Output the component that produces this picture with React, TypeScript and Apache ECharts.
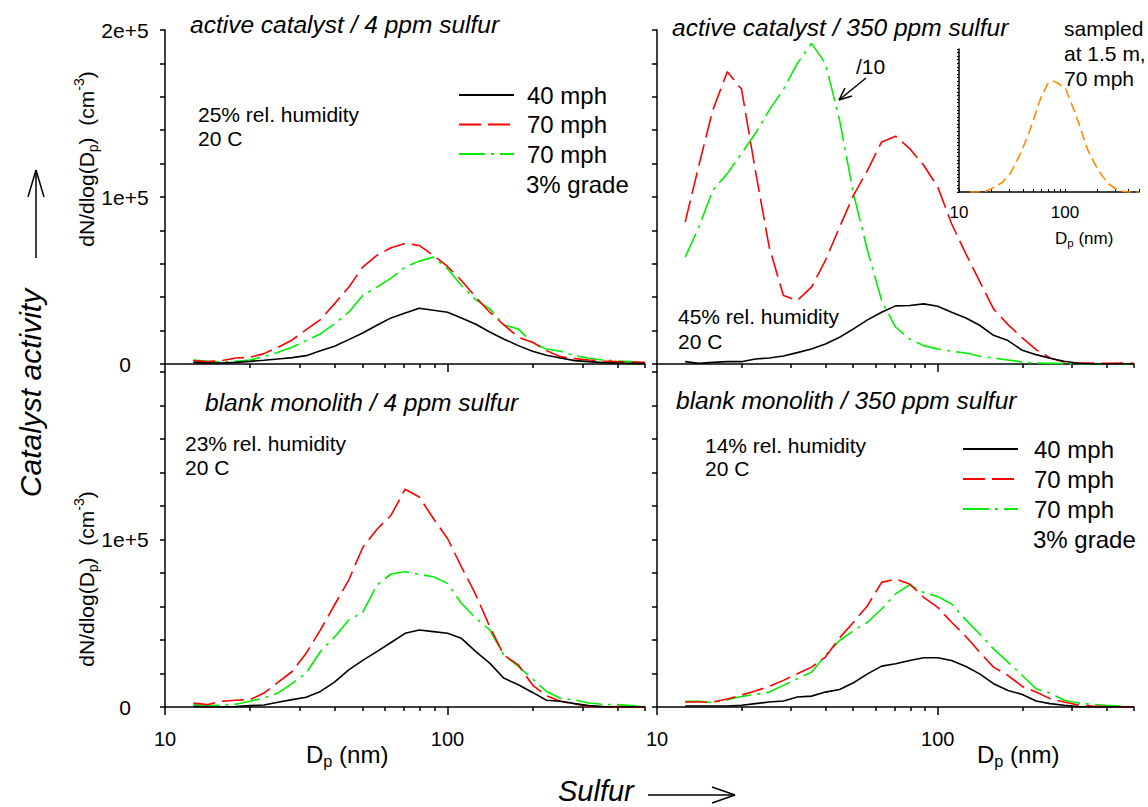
import React, { useEffect, useRef } from "react";
import * as echarts from "echarts";

const FONT = '"Liberation Sans", Arial, Helvetica, sans-serif';

// particle diameter bins (nm)
const dp = [12.6, 14.1, 15.8, 17.8, 20.0, 22.4, 25.1, 28.2, 31.6, 35.5, 39.8, 44.7, 50.1, 56.2, 63.1, 70.8, 79.4, 89.1, 100, 112, 126, 141, 158, 178, 200, 224, 251, 282, 316, 355, 398, 447, 500];

// active catalyst / 4 ppm sulfur
const tl40 = [1000, 500, 600, 1000, 1600, 2200, 3000, 3800, 5000, 8000, 10600, 14600, 18600, 23200, 27600, 30600, 33400, 32200, 31000, 27600, 23800, 19200, 15000, 11000, 7600, 5200, 3600, 2000, 1400, 800, 600, 400, 200];
const tl70 = [2000, 1400, 2000, 3600, 4000, 6200, 10000, 14400, 20600, 26600, 36000, 46000, 58000, 65000, 69600, 72200, 71000, 65000, 58400, 50000, 40000, 31000, 23600, 16000, 13000, 8000, 4400, 3200, 2400, 1800, 1400, 1200, 1000];
const tl70g = [2400, 1600, 1200, 1600, 2400, 4400, 7000, 10000, 14000, 18000, 24000, 31000, 41000, 46000, 51400, 58000, 61600, 64000, 57000, 47000, 38400, 33000, 23400, 21000, 12500, 9000, 7600, 5000, 3400, 2400, 1800, 1400, 400];

// active catalyst / 350 ppm sulfur (green shown /10)
const tr40 = [1400, 400, 1000, 1400, 1400, 3000, 3600, 4800, 6800, 9000, 12000, 16000, 21000, 26400, 31000, 34800, 35000, 36000, 34600, 31000, 27500, 23200, 17200, 14000, 8200, 5600, 3400, 1600, 400, 0, 0, 0, 0];
const tr70 = [85000, 119000, 152000, 175000, 164600, 116000, 70000, 41000, 38000, 46000, 62000, 82000, 101000, 116000, 133000, 136400, 129000, 119000, 106000, 84000, 65900, 49500, 33000, 23600, 15600, 8600, 3600, 1200, 600, 600, 400, 600, 400];
const tr70g = [64000, 82000, 104000, 114000, 126000, 138000, 152000, 164400, 180000, 192000, 180000, 146000, 102000, 68000, 38000, 22000, 15000, 11000, 9000, 7600, 6600, 4600, 3600, 2400, 1200, 600, 400, 200, 0, 0, 0, 0, 0];

// blank monolith / 4 ppm sulfur
const bl40 = [400, 0, 0, 200, 800, 1200, 2800, 4400, 5800, 9300, 14900, 22200, 27800, 33100, 38500, 44000, 46000, 45000, 44000, 41000, 33100, 26200, 17300, 13300, 8700, 4000, 3400, 2000, 800, 200, 0, 0, 0];
const bl70 = [2400, 1400, 3400, 4000, 4400, 8300, 14700, 21200, 32100, 46000, 60900, 75800, 95200, 106000, 114500, 130000, 125400, 112500, 100600, 83700, 66900, 48000, 31100, 25200, 13100, 6700, 3400, 1800, 400, 0, 200, 0, 0];
const bl70g = [1400, 1000, 1000, 1600, 3400, 5400, 8300, 14100, 20200, 33100, 41700, 52000, 56500, 72800, 79400, 80700, 79200, 77800, 73800, 61900, 53000, 46000, 31100, 24200, 16700, 9300, 5200, 4200, 2400, 1600, 1400, 800, 0];

// blank monolith / 350 ppm sulfur
const br40 = [600, 600, 600, 600, 1000, 2000, 3000, 3600, 6000, 6500, 8900, 10500, 14500, 19800, 24400, 25800, 27800, 29400, 29400, 27800, 24200, 19800, 13900, 9900, 7500, 3600, 2000, 1000, 200, 0, 0, 0, 0];
const br70 = [3000, 3000, 3000, 4800, 7100, 9500, 12300, 15900, 19800, 23800, 29800, 41300, 50600, 60500, 74400, 76400, 73400, 65500, 59500, 50600, 42100, 32700, 23800, 18800, 12300, 8900, 5000, 3000, 1200, 600, 200, 0, 0];
const br70g = [3400, 3400, 2600, 4400, 6300, 7500, 8900, 12900, 16900, 20800, 30800, 39700, 45600, 50600, 58500, 67500, 73000, 68400, 65900, 61500, 52000, 43600, 34700, 26800, 18800, 10900, 8300, 4000, 2400, 1600, 1000, 600, 0];

// inset: sampled at 1.5 m, 70 mph (arbitrary units)
const insetDp = [12.7, 17.1, 19.7, 25.4, 30.6, 38.1, 45.7, 59, 68.4, 76.3, 86.3, 102, 127, 164, 205, 255, 318, 395, 500];
const insetN = [0, 0, 1.9, 6.5, 13, 27, 41, 65.5, 75.5, 77.8, 76, 71.8, 53.8, 29.4, 15.4, 6, 1, 0, 0];

const majorTicks = [10, 100];
const minorTicks = [20, 30, 40, 50, 60, 70, 80, 90, 200, 300, 400, 500];
const insetTicks = [10, 20, 30, 40, 50, 60, 70, 80, 90, 100, 200, 300, 400, 500];

const seriesNames = ["40 mph", "70 mph", "70 mph 3% grade"];
const panelData = [
  [tl40, tl70, tl70g],
  [tr40, tr70, tr70g],
  [bl40, bl70, bl70g],
  [br40, br70, br70g],
];

const AX = { color: "#000", width: 1.5 };
const lineStyles = [
  { color: "#000000", width: 1.6, type: "solid" },
  { color: "#ff0000", width: 1.6, type: [22, 7] },
  { color: "#00ee00", width: 1.6, type: [26, 6, 3, 6] },
];

function buildOption() {
  const grids = [
    { left: 165, top: 30, width: 480, height: 334 },
    { left: 657, top: 30, width: 477, height: 334 },
    { left: 165, top: 372, width: 480, height: 335 },
    { left: 657, top: 372, width: 477, height: 335 },
    { left: 959, top: 49, width: 180, height: 143 },
  ];

  const xAxis: any[] = [];
  for (let g = 0; g < 4; g++) {
    const labels = g >= 2;
    xAxis.push({
      type: "log", logBase: 10, gridIndex: g, min: 10, max: 500, position: "bottom",
      axisLine: { show: true, onZero: false, lineStyle: AX },
      axisTick: { show: true, inside: false, length: 8, customValues: majorTicks, lineStyle: AX },
      axisLabel: {
        show: labels, customValues: majorTicks, formatter: (v: number) => String(Math.round(v)),
        fontSize: 20, fontFamily: FONT, color: "#000", margin: 22,
      },
      splitLine: { show: false },
    });
    xAxis.push({
      type: "log", logBase: 10, gridIndex: g, min: 10, max: 500, position: "bottom",
      axisLine: { show: false },
      axisTick: { show: true, inside: false, length: 4, customValues: minorTicks, lineStyle: AX },
      axisLabel: { show: false },
      splitLine: { show: false },
    });
  }
  xAxis.push({
    type: "log", logBase: 10, gridIndex: 4, min: 10, max: 500, position: "bottom",
    axisLine: { show: true, onZero: false, lineStyle: AX },
    axisTick: { show: true, inside: true, length: 3, customValues: insetTicks, lineStyle: { color: "#000", width: 1 } },
    axisLabel: {
      show: true, customValues: majorTicks, formatter: (v: number) => String(Math.round(v)),
      fontSize: 17, fontFamily: FONT, color: "#000", margin: 12,
    },
    splitLine: { show: false },
  });

  const yAxis: any[] = [];
  for (let g = 0; g < 4; g++) {
    const labels = g === 0 || g === 2;
    const top = g === 0;
    yAxis.push({
      type: "value", gridIndex: g, min: 0, max: 200000, interval: 20000,
      axisLine: { show: true, onZero: false, lineStyle: AX },
      axisTick: { show: true, inside: false, length: 5, lineStyle: AX },
      axisLabel: {
        show: labels, align: "center", margin: 40, fontSize: 21, fontFamily: FONT, color: "#000",
        formatter: (v: number) => (v === 0 ? "0" : v === 100000 ? "1e+5" : v === 200000 && top ? "2e+5" : ""),
      },
      splitLine: { show: false },
    });
  }
  yAxis.push({
    type: "value", gridIndex: 4, min: 0, max: 100, interval: 2.5,
    axisLine: { show: true, onZero: false, lineStyle: AX },
    axisTick: { show: true, inside: false, length: 2, lineStyle: { color: "#000", width: 1 } },
    axisLabel: { show: false },
    splitLine: { show: false },
  });

  const series: any[] = [];
  panelData.forEach((arrs, p) => {
    arrs.forEach((arr, s) => {
      series.push({
        type: "line", name: seriesNames[s], xAxisIndex: p * 2, yAxisIndex: p,
        data: dp.map((d, i) => [d, arr[i]]),
        symbol: "none", showSymbol: false, lineStyle: lineStyles[s],
        itemStyle: { color: lineStyles[s].color }, z: 3 - s,
      });
    });
  });
  series.push({
    type: "line", name: "sampled at 1.5 m, 70 mph", xAxisIndex: 8, yAxisIndex: 4,
    data: insetDp.map((d, i) => [d, insetN[i]]),
    symbol: "none", showSymbol: false,
    lineStyle: { color: "#ff8c00", width: 1.6, type: [10, 5] }, itemStyle: { color: "#ff8c00" },
  });

  const legendBase = {
    orient: "vertical", itemWidth: 55, itemHeight: 14, selectedMode: false, padding: 0,
    data: seriesNames,
    itemStyle: { color: "rgba(0,0,0,0)", borderWidth: 0, borderColor: "rgba(0,0,0,0)" },
    formatter: (n: string) => (n === "70 mph 3% grade" ? "70 mph" : n),
  };
  const legendText = (pad: number) => ({
    fontSize: 24, lineHeight: 24, fontFamily: FONT, color: "#000", padding: [0, 0, 0, pad],
  });

  const txt = (x: number, y: number, text: string, size: number, italic = false, align = "left") => ({
    type: "text", x, y, silent: true,
    style: {
      text, fill: "#000", fontSize: size, fontFamily: FONT, fontStyle: italic ? "italic" : "normal",
      align, verticalAlign: "middle",
    },
  });
  const ln = (x1: number, y1: number, x2: number, y2: number) => ({
    type: "line", silent: true, shape: { x1, y1, x2, y2 }, style: { stroke: "#000", lineWidth: 1.5 },
  });
  const yTitle = (x: number, y: number) => ({
    type: "text", x, y, rotation: Math.PI / 2, silent: true,
    style: {
      text: "{n|dN/dlog(D}{s|p}{n|)  (cm}{u|-3}{n|)}", align: "center", verticalAlign: "middle",
      rich: {
        n: { fontSize: 21, fontFamily: FONT, lineHeight: 28, fill: "#000" },
        s: { fontSize: 14, fontFamily: FONT, lineHeight: 12, verticalAlign: "bottom", fill: "#000" },
        u: { fontSize: 14, fontFamily: FONT, lineHeight: 12, verticalAlign: "top", fill: "#000" },
      },
    },
  });
  const dpLabel = (x: number, y: number, size: number) => ({
    type: "text", x, y, silent: true,
    style: {
      text: "{n|D}{s|p}{n| (nm)}", align: "left", verticalAlign: "middle",
      rich: {
        n: { fontSize: size, fontFamily: FONT, lineHeight: size * 1.25, fill: "#000" },
        s: { fontSize: size * 0.68, fontFamily: FONT, lineHeight: size * 0.55, verticalAlign: "bottom", fill: "#000" },
      },
    },
  });

  const graphic = [
    txt(190, 24, "active catalyst / 4 ppm sulfur", 24.5, true),
    txt(672, 27, "active catalyst / 350 ppm sulfur", 24.5, true),
    txt(205, 402, "blank monolith / 4 ppm sulfur", 24.5, true),
    txt(676, 400, "blank monolith / 350 ppm sulfur", 24.5, true),
    txt(198, 114, "25% rel. humidity", 21),
    txt(198, 138, "20 C", 21),
    txt(678, 316, "45% rel. humidity", 21),
    txt(678, 341, "20 C", 21),
    txt(185, 443, "23% rel. humidity", 21),
    txt(185, 467, "20 C", 21),
    txt(705, 445, "14% rel. humidity", 21),
    txt(705, 468, "20 C", 21),
    txt(526, 184, "3% grade", 24),
    txt(1033, 539, "3% grade", 24),
    txt(1064, 28, "sampled", 21),
    txt(1064, 53, "at 1.5 m,", 21),
    txt(1064, 78, "70 mph", 21),
    txt(856, 66, "/10", 21),
    ln(866, 78, 839, 100), ln(839, 100, 852, 96), ln(839, 100, 845, 88),
    yTitle(86, 159),
    yTitle(86, 579),
    dpLabel(306, 754, 24),
    dpLabel(977, 754, 24),
    dpLabel(1055, 238, 17),
    {
      type: "text", x: 30, y: 393, rotation: Math.PI / 2, silent: true,
      style: { text: "Catalyst activity", fill: "#000", fontSize: 30, fontStyle: "italic", fontFamily: FONT, align: "center", verticalAlign: "middle" },
    },
    ln(36, 258, 36, 170), ln(36, 170, 28, 197), ln(36, 170, 44, 197),
    txt(558, 791, "Sulfur", 29, true),
    ln(648, 795, 735, 795), ln(735, 795, 712, 787), ln(735, 795, 712, 803),
  ];

  return {
    animation: false,
    backgroundColor: "#ffffff",
    textStyle: { fontFamily: FONT },
    grid: grids,
    xAxis, yAxis, series,
    legend: [
      { ...legendBase, left: 458, top: 83, itemGap: 5.5, textStyle: legendText(8) },
      { ...legendBase, left: 962, top: 437, itemGap: 6, textStyle: legendText(11) },
    ],
    graphic: { elements: graphic },
  };
}

export default function App() {
  const ref = useRef<HTMLDivElement>(null);
  useEffect(() => {
    if (!ref.current) return;
    const chart = echarts.init(ref.current, undefined, { renderer: "svg" });
    chart.setOption(buildOption() as any);
    return () => chart.dispose();
  }, []);
  return (
    <div
      ref={ref}
      style={{ position: "absolute", left: 0, top: 0, width: 1148, height: 807, background: "#fff" }}
    />
  );
}
